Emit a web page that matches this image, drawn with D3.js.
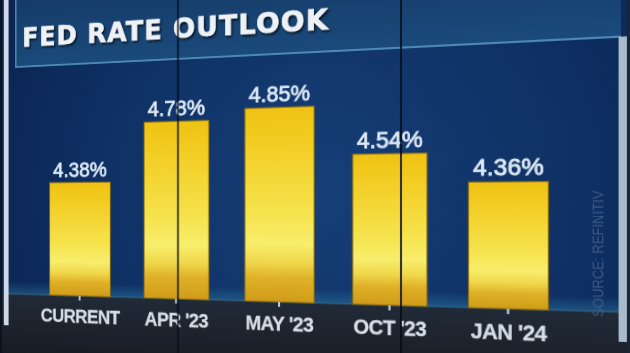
<!DOCTYPE html>
<html>
<head>
<meta charset="utf-8">
<script src="https://cdn.jsdelivr.net/npm/d3@7"></script>
<style>
  html, body { margin: 0; padding: 0; background: #0c1b33; overflow: hidden; }
  #wrap { position: relative; width: 630px; height: 353px; overflow: hidden; }
  /* the chart is drawn flat, then tilted like the tv screen it was shot from */
  #screen { position: absolute; left: -100px; top: -40px;
            transform-origin: 415px 249px;
            transform: perspective(551px) rotateY(-10deg); }
</style>
</head>
<body>
<div id="wrap"><svg id="screen" width="830" height="440"></svg></div>
<script>
const categories = ["CURRENT", "APR '23", "MAY '23", "OCT '23", "JAN '24"];
const rates = [4.38, 4.78, 4.85, 4.54, 4.36];
const rateLabels = ["4.38%", "4.78%", "4.85%", "4.54%", "4.36%"];
const title = "FED RATE OUTLOOK";
const source = "SOURCE: REFINITIV";

const svg = d3.select("#screen");
const defs = svg.append("defs");
const g = svg.append("g").attr("transform", "translate(100,40)");

const baseY = 303;
const x = d3.scaleBand().domain(categories).range([1.2, 555])
            .paddingInner(0.35).paddingOuter(0.175);
const y = d3.scaleLinear().domain([3.6, 5.0]).range([baseY, 82.5]);

// gradients
const bg = defs.append("radialGradient").attr("id", "bg")
  .attr("gradientUnits", "userSpaceOnUse").attr("cx", 320).attr("cy", 190).attr("r", 430);
bg.append("stop").attr("offset", 0).attr("stop-color", "#163f78");
bg.append("stop").attr("offset", 0.6).attr("stop-color", "#0e2f62");
bg.append("stop").attr("offset", 1).attr("stop-color", "#0a224f");

const head = defs.append("linearGradient").attr("id", "head").attr("x1", 0).attr("y1", 0).attr("x2", 0).attr("y2", 1);
head.append("stop").attr("offset", 0).attr("stop-color", "#143864");
head.append("stop").attr("offset", 1).attr("stop-color", "#1a4a7b");

const floor = defs.append("linearGradient").attr("id", "floor").attr("x1", 0).attr("y1", 0).attr("x2", 0).attr("y2", 1);
floor.append("stop").attr("offset", 0).attr("stop-color", "#212a37");
floor.append("stop").attr("offset", 0.4).attr("stop-color", "#1c222c");
floor.append("stop").attr("offset", 1).attr("stop-color", "#111317");

const glow = defs.append("linearGradient").attr("id", "glow").attr("x1", 0).attr("y1", 0).attr("x2", 0).attr("y2", 1);
glow.append("stop").attr("offset", 0).attr("stop-color", "#2f7ea6").attr("stop-opacity", 0);
glow.append("stop").attr("offset", 1).attr("stop-color", "#2f7ea6").attr("stop-opacity", 0.45);

const barFill = defs.append("linearGradient").attr("id", "bar").attr("x1", 0).attr("y1", 0).attr("x2", 0).attr("y2", 1);
[[0, "#efc214"], [0.15, "#f2cb20"], [0.55, "#f6e34e"], [0.7, "#f8ee6c"], [0.8, "#efd64a"],
 [0.88, "#deb027"], [1, "#d19c19"]].forEach(s =>
  barFill.append("stop").attr("offset", s[0]).attr("stop-color", s[1]));

const shadow = defs.append("filter").attr("id", "shadow");
shadow.append("feDropShadow").attr("dx", 1.5).attr("dy", 2).attr("stdDeviation", 1)
  .attr("flood-color", "#000").attr("flood-opacity", 0.7);

// screen background
g.append("rect").attr("x", -100).attr("y", -40).attr("width", 830).attr("height", 440).attr("fill", "url(#bg)");
g.append("rect").attr("x", -30).attr("y", baseY - 14).attr("width", 626).attr("height", 14).attr("fill", "url(#glow)");
g.append("rect").attr("x", -100).attr("y", baseY).attr("width", 830).attr("height", 100).attr("fill", "url(#floor)");
g.append("line").attr("x1", -30).attr("x2", 596).attr("y1", baseY).attr("y2", baseY)
  .attr("stroke", "#3b7596").attr("stroke-width", 1).attr("opacity", 0.7);

// header panel
g.append("rect").attr("x", -22).attr("y", -40).attr("width", 620).attr("height", 92)
  .attr("fill", "url(#head)");
g.append("line").attr("x1", -22).attr("x2", 598).attr("y1", 52).attr("y2", 52)
  .attr("stroke", "#5fa3cc").attr("stroke-width", 2).attr("opacity", 0.75);
g.append("line").attr("x1", -21).attr("x2", -21).attr("y1", -40).attr("y2", 52)
  .attr("stroke", "#4f80ab").attr("stroke-width", 2);

g.append("text").attr("x", -13).attr("y", 30).text(title)
  .attr("fill", "#eef2f6").attr("filter", "url(#shadow)")
  .attr("stroke", "#eef2f6").attr("stroke-width", 0.6)
  .style("font", "bold 29px 'DejaVu Sans', sans-serif").style("letter-spacing", "1.2px");

// bars
g.selectAll(".bar").data(rates).enter().append("rect")
  .attr("class", "bar")
  .attr("x", (d, i) => x(categories[i]))
  .attr("width", x.bandwidth())
  .attr("y", d => y(d))
  .attr("height", d => baseY - y(d))
  .attr("fill", "url(#bar)")
  .attr("stroke", "#8c6c10").attr("stroke-width", 1);

g.selectAll(".val").data(rates).enter().append("text")
  .attr("class", "val")
  .attr("x", (d, i) => x(categories[i]) + x.bandwidth() / 2)
  .attr("y", d => y(d) - 6)
  .attr("text-anchor", "middle")
  .attr("fill", "#dce8f4").attr("stroke", "#dce8f4").attr("stroke-width", 0.8)
  .style("font", "22.5px 'Liberation Sans', Arial, sans-serif")
  .text((d, i) => rateLabels[i]);

g.append("g").attr("transform", `translate(0,${baseY})`)
  .call(d3.axisBottom(x).tickSize(5).tickPadding(10))
  .call(a => a.select(".domain").remove())
  .call(a => a.selectAll("line").attr("stroke", "#c6d3e0").attr("stroke-width", 2))
  .call(a => a.selectAll("text").attr("fill", "#d5dde6")
    .attr("stroke", "#d5dde6").attr("stroke-width", 0.3)
    .style("font", "bold 20px 'Liberation Sans', Arial, sans-serif")
    .style("letter-spacing", "-0.6px"));

g.append("text").attr("transform", "translate(583,250) rotate(-90)")
  .attr("text-anchor", "middle").attr("fill", "#3f5e86")
  .style("font", "12px 'Liberation Sans', Arial, sans-serif").text(source);

// frame edges and the video wall seams
g.append("rect").attr("x", -100).attr("y", -40).attr("width", 62).attr("height", 440).attr("fill", "#0b1322");
g.append("rect").attr("x", -36).attr("y", -40).attr("width", 6).attr("height", 378).attr("fill", "#cfd9e3");
g.append("rect").attr("x", 596).attr("y", 52).attr("width", 7).attr("height", 278).attr("fill", "#a9bccc");
g.append("rect").attr("x", 603).attr("y", -40).attr("width", 130).attr("height", 440).attr("fill", "#1a2535");

[169.5, 400].forEach(s =>
  g.append("line").attr("x1", s).attr("x2", s).attr("y1", -40).attr("y2", 400)
    .attr("stroke", "#050c18").attr("stroke-width", 1.6));
</script>
</body>
</html>
